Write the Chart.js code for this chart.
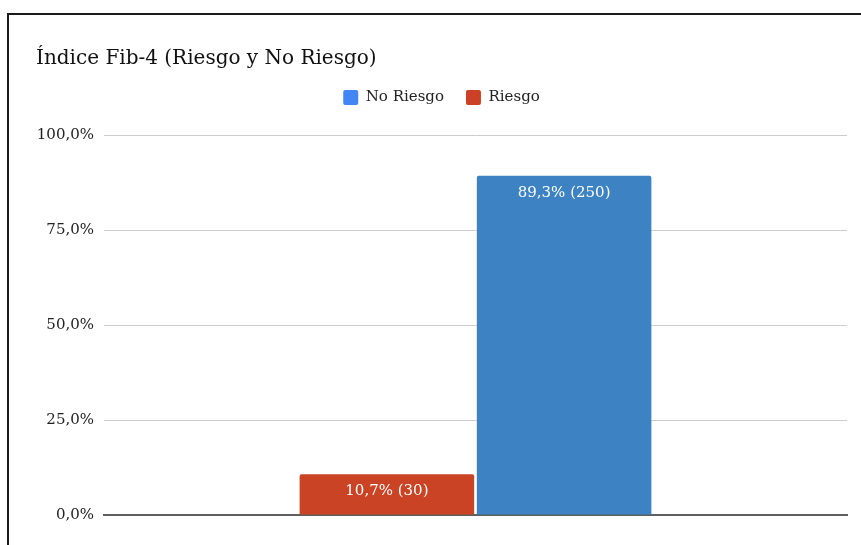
<!DOCTYPE html>
<html>
<head>
<meta charset="utf-8">
<script src="https://cdn.jsdelivr.net/npm/chart.js@4.4.0/dist/chart.umd.min.js"></script>
<style>
  body { margin: 0; background: #fff; overflow: hidden; }
  #wrap { position: absolute; left: 0; top: 0; width: 861px; height: 545px; }
  #frame {
    position: absolute; left: 7px; top: 13px; width: 2000px; height: 2000px;
    border-top: 2px solid #1a1a1a; border-left: 2px solid #1a1a1a;
    pointer-events: none;
  }
</style>
</head>
<body>
<div id="wrap"><canvas id="fibChart"></canvas></div>
<div id="frame"></div>
<script>
'use strict';

// data
const categories = ['Índice Fib-4'];
const seriesNames = ['Riesgo', 'No Riesgo'];
const percentValues = [10.7, 89.3];
const countValues = [30, 250];
const yTicks = [0, 25, 50, 75, 100];

const barColors = ['#c94324', '#3d82c3'];
const legendColors = ['#cc4125', '#4285f4'];
const fontName = '"DejaVu Serif", serif';

function pct(v, digits) {
    return v.toFixed(digits).replace('.', ',') + '%';
}

// label inside the top of each bar
const barLabels = {
    id: 'barLabels',
    afterDatasetsDraw(chart) {
        const ctx = chart.ctx;
        ctx.save();
        ctx.fillStyle = '#ffffff';
        ctx.font = '15px ' + fontName;
        ctx.textAlign = 'center';
        ctx.textBaseline = 'middle';
        chart.data.datasets.forEach(function (ds, i) {
            const meta = chart.getDatasetMeta(i);
            meta.data.forEach(function (bar) {
                const text = pct(percentValues[i], 1) + ' (' + countValues[i] + ')';
                ctx.fillText(text, bar.x, bar.y + 17);
            });
        });
        ctx.restore();
    }
};

// extra room under the legend
const legendGap = {
    id: 'legendGap',
    beforeInit(chart) {
        const fit = chart.legend.fit;
        chart.legend.fit = function () {
            fit.bind(chart.legend)();
            this.height += 20;
        };
    }
};

const datasets = [];
for (let i = 0; i < seriesNames.length; i++) {
    datasets.push({
        label: seriesNames[i],
        data: [percentValues[i]],
        backgroundColor: barColors[i],
        borderRadius: 2,
        categoryPercentage: 0.477,
        barPercentage: 0.985
    });
}

const chart = new Chart(document.getElementById('fibChart').getContext('2d'), {
    type: 'bar',
    data: { labels: categories, datasets: datasets },
    plugins: [barLabels, legendGap],
    options: {
        responsive: true,
        maintainAspectRatio: false,
        animation: false,
        layout: { padding: { left: 36, right: 14, top: 20, bottom: 22 } },
        plugins: {
            title: {
                display: true,
                text: 'Índice Fib-4 (Riesgo y No Riesgo)',
                align: 'start',
                color: '#111',
                font: { family: fontName, size: 20, weight: 'normal' },
                padding: { top: 27, bottom: -3 }
            },
            legend: {
                reverse: true,
                labels: {
                    boxWidth: 15,
                    boxHeight: 15,
                    padding: 22,
                    color: '#222',
                    font: { family: fontName, size: 15 },
                    useBorderRadius: true,
                    borderRadius: 2,
                    generateLabels(c) {
                        const items = Chart.defaults.plugins.legend.labels.generateLabels(c);
                        items.forEach(function (it) {
                            it.fillStyle = legendColors[it.datasetIndex];
                            it.strokeStyle = legendColors[it.datasetIndex];
                            it.lineWidth = 0;
                        });
                        return items;
                    }
                }
            },
            tooltip: { enabled: false }
        },
        scales: {
            x: {
                grid: { display: false },
                ticks: { display: false },
                border: { display: true, color: '#5f5f5f', width: 2 }
            },
            y: {
                min: 0,
                max: 100,
                afterBuildTicks(scale) {
                    scale.ticks = yTicks.map(function (v) { return { value: v }; });
                },
                afterFit(scale) { scale.width = 68; },
                ticks: {
                    padding: 10,
                    color: '#222',
                    font: { family: fontName, size: 15 },
                    callback: function (v) { return pct(v, 1); }
                },
                grid: { color: '#cccccc', lineWidth: 1, drawTicks: false },
                border: { display: false }
            }
        }
    }
});
</script>
</body>
</html>
